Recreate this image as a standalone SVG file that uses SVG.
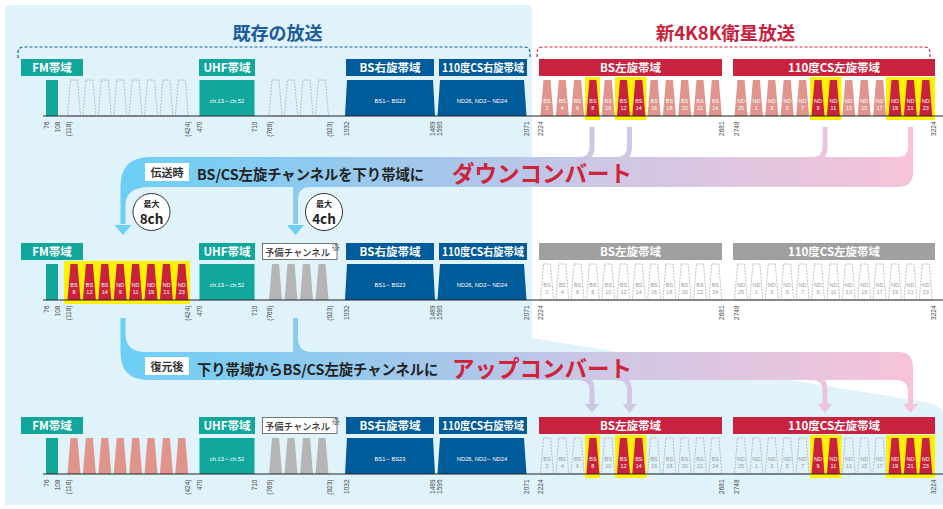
<svg xmlns="http://www.w3.org/2000/svg" width="943" height="509" viewBox="0 0 943 509">
<style>
.lb{font-family:"Noto Sans CJK JP","Noto Sans",sans-serif;font-weight:700;font-size:11.5px;fill:#fff;text-anchor:middle}
.tk{font-family:"Liberation Sans","Noto Sans",sans-serif;font-size:6.5px;fill:#444;text-anchor:end}
.cl{font-family:"Liberation Sans","Noto Sans",sans-serif;font-size:5.5px;fill:#fff;text-anchor:middle}
.cg{font-family:"Liberation Sans","Noto Sans",sans-serif;font-size:5.5px;fill:#9a9a9a;text-anchor:middle}
.bt{font-family:"Liberation Sans","Noto Sans",sans-serif;font-size:5.8px;fill:#fff;text-anchor:middle}
.sal{fill:#e0948c}
.red{fill:#c8223f}
.gry{fill:#b5b5b5}
.dsh{fill:none;stroke:#a3a3a3;stroke-width:0.7;stroke-dasharray:2 1.2}
.yl{fill:#fff100}
.teal{fill:#12a79d}
.blu{fill:#005b9a}
.gl{fill:#a0a0a0}
.ax{stroke:#222;stroke-width:1.2}
.jp{font-family:"Noto Sans CJK JP","Noto Sans",sans-serif;font-weight:700}
.rs{font-family:"Noto Sans CJK JP",sans-serif;font-weight:500;font-size:9.5px;fill:#333}
.stem{fill:none;stroke:url(#gband);stroke-width:5}
</style>
<defs>
<path id="tz" d="M-3.5 -36 H3.5 L6.5 0 H-6.5 Z"/>
<linearGradient id="gband" gradientUnits="userSpaceOnUse" x1="120" y1="0" x2="915" y2="0">
<stop offset="0" stop-color="#6ccff6"/>
<stop offset="0.42" stop-color="#a9c6ea"/>
<stop offset="0.6" stop-color="#cdc7e5"/>
<stop offset="1" stop-color="#f7c3d9"/>
</linearGradient>
</defs>

<g id="background">
<rect width="943" height="509" fill="#fff"/>
<path d="M5 10 Q5 5 10 5 H527 Q532 5 532 10 V338 L925 402 Q943 405 943 415 V505 H5 Z" fill="#e0f2fa"/>
</g>

<g id="titles">
<text class="jp" x="277.5" y="40" font-size="18" fill="#1a5c9e" text-anchor="middle">既存の放送</text>
<path d="M18 58 V53 Q18 47 24 47 H524 Q530 47 530 53 V57" fill="none" stroke="#1a5c9e" stroke-width="1.2" stroke-dasharray="3 2"/>
<text class="jp" x="725.5" y="40" font-size="18.5" fill="#c8223f" text-anchor="middle">新4K8K衛星放送</text>
<path d="M537 57 V53 Q537 47 543 47 H924 Q930 47 930 53 V58" fill="none" stroke="#e0203f" stroke-width="1.2" stroke-dasharray="3 2"/>
</g>

<g id="connectors">
<path fill="url(#gband)" d="M120.5 224 V187 Q120.5 157 150 157 H898 Q908 157 908 147 V127 H913 V172 Q913 187 898 187 H311 Q298 187 298 200 V224 H293 V187 H150 Q125.5 187 125.5 205 V224 Z"/>
<path class="stem" d="M592 127 V147 Q592 159.5 579 159.5"/>
<path class="stem" d="M629.5 127 V147 Q629.5 159.5 616 159.5"/>
<path class="stem" d="M825 127 V147 Q825 159.5 812 159.5"/>
<polygon points="114.5,225 131.5,225 123,235" fill="#6ccff6"/>
<polygon points="287,225 304,225 295.5,235" fill="#6ccff6"/>
<path fill="url(#gband)" d="M120.5 318 H125.5 V334 Q125.5 352 146 352 H293 V318 H298 V338 Q298 352 312 352 H898 Q913 352 913 367 V404 H908 V392 Q908 380 896 380 H148 Q120.5 380 120.5 352 Z"/>
<path class="stem" d="M579 377.5 Q592 377.5 592 390 V404"/>
<path class="stem" d="M616 377.5 Q629.5 377.5 629.5 390 V404"/>
<path class="stem" d="M812 377.5 Q825 377.5 825 390 V404"/>
<polygon points="585,404 599,404 592,413" fill="url(#gband)"/>
<polygon points="622.5,404 636.5,404 629.5,413" fill="url(#gband)"/>
<polygon points="818,404 832,404 825,413" fill="url(#gband)"/>
<polygon points="903,404 918,404 910.5,413" fill="url(#gband)"/>
</g>

<g id="downconvert-text">
<rect x="145" y="163" width="44" height="18" fill="#fff"/>
<text class="jp" x="167" y="177" font-size="11" fill="#333" text-anchor="middle">伝送時</text>
<text class="jp" x="197" y="180" font-size="14.3" fill="#222">BS/CS左旋チャンネルを下り帯域に</text>
<text class="jp" x="452" y="182" font-size="22.5" fill="#d0223b">ダウンコンバート</text>
</g>
<g id="max8">
<circle cx="151.5" cy="212" r="18.5" fill="#fff" stroke="#333" stroke-width="1"/>
<text class="jp" x="151.5" y="206.5" font-size="8" fill="#222" text-anchor="middle">最大</text>
<text class="jp" x="151.5" y="224" font-size="13.5" fill="#222" text-anchor="middle">8ch</text>
</g>
<g id="max4">
<circle cx="324" cy="212" r="18.5" fill="#fff" stroke="#333" stroke-width="1"/>
<text class="jp" x="324" y="206.5" font-size="8" fill="#222" text-anchor="middle">最大</text>
<text class="jp" x="324" y="224" font-size="13.5" fill="#222" text-anchor="middle">4ch</text>
</g>
<g id="upconvert-text">
<rect x="145" y="357" width="44" height="18" fill="#fff"/>
<text class="jp" x="167" y="371" font-size="11" fill="#333" text-anchor="middle">復元後</text>
<text class="jp" x="197" y="375" font-size="14.3" fill="#222">下り帯域からBS/CS左旋チャンネルに</text>
<text class="jp" x="452" y="377" font-size="22.5" fill="#d0223b">アップコンバート</text>
</g>

<!-- ROW 1 -->
<g id="row1">
<g id="r1-fm"><rect class="teal" x="21" y="59" width="62" height="17"/><text class="lb" x="52" y="72">FM帯域</text><rect class="teal" x="46" y="80" width="12" height="36"/></g>
<g id="r1-fmch" class="dsh">
<use href="#tz" x="74" y="116"/><use href="#tz" x="89.4" y="116"/><use href="#tz" x="104.8" y="116"/><use href="#tz" x="120.2" y="116"/><use href="#tz" x="135.6" y="116"/><use href="#tz" x="151" y="116"/><use href="#tz" x="166.4" y="116"/><use href="#tz" x="181.8" y="116"/>
</g>
<g id="r1-uhf"><rect class="teal" x="199" y="59" width="56" height="17"/><text class="lb" x="227" y="72">UHF帯域</text><rect class="teal" x="199.5" y="80" width="55" height="36"/><text class="bt" x="227" y="102.5">ch.13～ch.52</text></g>
<g id="r1-res" class="dsh">
<use href="#tz" x="275.5" y="116"/><use href="#tz" x="291" y="116"/><use href="#tz" x="306.5" y="116"/><use href="#tz" x="322" y="116"/>
</g>
<g id="r1-bsr"><rect class="blu" x="346" y="59" width="88" height="17"/><text class="lb" x="390" y="72">BS右旋帯域</text><path class="blu" d="M347 80 H433 L435 116 H345 Z"/><text class="bt" x="390" y="102.5">BS1～BS23</text></g>
<g id="r1-csr"><rect class="blu" x="439" y="59" width="88" height="17"/><text class="lb" x="483" y="72" textLength="82" lengthAdjust="spacingAndGlyphs">110度CS右旋帯域</text><path class="blu" d="M440 80 H524 L526.5 116 H437.5 Z"/><text class="bt" x="482" y="102.5">ND26, ND2～ND24</text></g>
<g id="r1-bsl">
<rect class="red" x="539" y="59" width="183" height="17"/><text class="lb" x="630.5" y="72">BS左旋帯域</text>
<rect class="yl" x="585" y="77" width="15" height="43"/><rect class="yl" x="615" y="77" width="31.5" height="43"/>
<use href="#tz" class="sal" x="547" y="116"/><use href="#tz" class="sal" x="562.3" y="116"/><use href="#tz" class="sal" x="577.6" y="116"/><use href="#tz" class="red" x="592.9" y="116"/><use href="#tz" class="sal" x="608.2" y="116"/><use href="#tz" class="red" x="623.5" y="116"/><use href="#tz" class="red" x="638.8" y="116"/><use href="#tz" class="sal" x="654.1" y="116"/><use href="#tz" class="sal" x="669.4" y="116"/><use href="#tz" class="sal" x="684.7" y="116"/><use href="#tz" class="sal" x="700" y="116"/><use href="#tz" class="sal" x="715.3" y="116"/>
<text class="cl" x="547" y="103">BS<tspan x="547" dy="6.5">2</tspan></text><text class="cl" x="562.3" y="103">BS<tspan x="562.3" dy="6.5">4</tspan></text><text class="cl" x="577.6" y="103">BS<tspan x="577.6" dy="6.5">6</tspan></text><text class="cl" x="592.9" y="103">BS<tspan x="592.9" dy="6.5">8</tspan></text><text class="cl" x="608.2" y="103">BS<tspan x="608.2" dy="6.5">10</tspan></text><text class="cl" x="623.5" y="103">BS<tspan x="623.5" dy="6.5">12</tspan></text><text class="cl" x="638.8" y="103">BS<tspan x="638.8" dy="6.5">14</tspan></text><text class="cl" x="654.1" y="103">BS<tspan x="654.1" dy="6.5">16</tspan></text><text class="cl" x="669.4" y="103">BS<tspan x="669.4" dy="6.5">18</tspan></text><text class="cl" x="684.7" y="103">BS<tspan x="684.7" dy="6.5">20</tspan></text><text class="cl" x="700" y="103">BS<tspan x="700" dy="6.5">22</tspan></text><text class="cl" x="715.3" y="103">BS<tspan x="715.3" dy="6.5">24</tspan></text>
</g>
<g id="r1-csl">
<rect class="red" x="733" y="59" width="202" height="17"/><text class="lb" x="834" y="72">110度CS左旋帯域</text>
<rect class="yl" x="810" y="77" width="31.5" height="43"/><rect class="yl" x="886" y="77" width="49" height="43"/>
<use href="#tz" class="sal" x="741" y="116"/><use href="#tz" class="sal" x="756.4" y="116"/><use href="#tz" class="sal" x="771.8" y="116"/><use href="#tz" class="sal" x="787.2" y="116"/><use href="#tz" class="sal" x="802.6" y="116"/><use href="#tz" class="red" x="818" y="116"/><use href="#tz" class="red" x="833.4" y="116"/><use href="#tz" class="sal" x="848.8" y="116"/><use href="#tz" class="sal" x="864.2" y="116"/><use href="#tz" class="sal" x="879.6" y="116"/><use href="#tz" class="red" x="895" y="116"/><use href="#tz" class="red" x="910.4" y="116"/><use href="#tz" class="red" x="925.8" y="116"/>
<text class="cl" x="741" y="103">ND<tspan x="741" dy="6.5">25</tspan></text><text class="cl" x="756.4" y="103">ND<tspan x="756.4" dy="6.5">1</tspan></text><text class="cl" x="771.8" y="103">ND<tspan x="771.8" dy="6.5">3</tspan></text><text class="cl" x="787.2" y="103">ND<tspan x="787.2" dy="6.5">5</tspan></text><text class="cl" x="802.6" y="103">ND<tspan x="802.6" dy="6.5">7</tspan></text><text class="cl" x="818" y="103">ND<tspan x="818" dy="6.5">9</tspan></text><text class="cl" x="833.4" y="103">ND<tspan x="833.4" dy="6.5">11</tspan></text><text class="cl" x="848.8" y="103">ND<tspan x="848.8" dy="6.5">13</tspan></text><text class="cl" x="864.2" y="103">ND<tspan x="864.2" dy="6.5">15</tspan></text><text class="cl" x="879.6" y="103">ND<tspan x="879.6" dy="6.5">17</tspan></text><text class="cl" x="895" y="103">ND<tspan x="895" dy="6.5">19</tspan></text><text class="cl" x="910.4" y="103">ND<tspan x="910.4" dy="6.5">21</tspan></text><text class="cl" x="925.8" y="103">ND<tspan x="925.8" dy="6.5">23</tspan></text>
</g>
<line class="ax" x1="43" y1="116" x2="943" y2="116"/>
<g id="r1-ticks">
<text class="tk" transform="translate(49.3,121.5) rotate(-90)">76</text><text class="tk" transform="translate(59.8,121.5) rotate(-90)">108</text><text class="tk" transform="translate(70.8,121.5) rotate(-90)">(118)</text><text class="tk" transform="translate(190.3,121.5) rotate(-90)">(424)</text><text class="tk" transform="translate(202.3,121.5) rotate(-90)">470</text><text class="tk" transform="translate(256.8,121.5) rotate(-90)">710</text><text class="tk" transform="translate(271.8,121.5) rotate(-90)">(769)</text><text class="tk" transform="translate(332.3,121.5) rotate(-90)">(923)</text><text class="tk" transform="translate(349.3,121.5) rotate(-90)">1032</text><text class="tk" transform="translate(434.8,121.5) rotate(-90)">1489</text><text class="tk" transform="translate(441.8,121.5) rotate(-90)">1595</text><text class="tk" transform="translate(529.3,121.5) rotate(-90)">2071</text><text class="tk" transform="translate(542.8,121.5) rotate(-90)">2224</text><text class="tk" transform="translate(724.3,121.5) rotate(-90)">2681</text><text class="tk" transform="translate(739.3,121.5) rotate(-90)">2748</text><text class="tk" transform="translate(935.8,121.5) rotate(-90)">3224</text>
</g>
</g>

<!-- ROW 2 -->
<g id="row2" transform="translate(0,184)">
<g id="r2-fm"><rect class="teal" x="21" y="59" width="62" height="17"/><text class="lb" x="52" y="72">FM帯域</text><rect class="teal" x="46" y="80" width="12" height="36"/></g>
<g id="r2-fmch">
<rect class="yl" x="64" y="77" width="126" height="43"/>
<g class="red"><use href="#tz" x="74" y="116"/><use href="#tz" x="89.4" y="116"/><use href="#tz" x="104.8" y="116"/><use href="#tz" x="120.2" y="116"/><use href="#tz" x="135.6" y="116"/><use href="#tz" x="151" y="116"/><use href="#tz" x="166.4" y="116"/><use href="#tz" x="181.8" y="116"/></g>
<text class="cl" x="74" y="103">BS<tspan x="74" dy="6.5">8</tspan></text><text class="cl" x="89.4" y="103">BS<tspan x="89.4" dy="6.5">12</tspan></text><text class="cl" x="104.8" y="103">BS<tspan x="104.8" dy="6.5">14</tspan></text><text class="cl" x="120.2" y="103">ND<tspan x="120.2" dy="6.5">9</tspan></text><text class="cl" x="135.6" y="103">ND<tspan x="135.6" dy="6.5">11</tspan></text><text class="cl" x="151" y="103">ND<tspan x="151" dy="6.5">19</tspan></text><text class="cl" x="166.4" y="103">ND<tspan x="166.4" dy="6.5">21</tspan></text><text class="cl" x="181.8" y="103">ND<tspan x="181.8" dy="6.5">23</tspan></text>
</g>
<g id="r2-uhf"><rect class="teal" x="199" y="59" width="56" height="17"/><text class="lb" x="227" y="72">UHF帯域</text><rect class="teal" x="199.5" y="80" width="55" height="36"/><text class="bt" x="227" y="102.5">ch.13～ch.52</text></g>
<g id="r2-res">
<rect x="262.5" y="59.5" width="74.5" height="16" fill="#fff" stroke="#555" stroke-width="0.8"/>
<text class="rs" x="265" y="71.5" textLength="65" lengthAdjust="spacingAndGlyphs">予備チャンネル</text><text class="rs" x="331" y="67" font-size="6">※</text>
<g class="gry"><use href="#tz" x="275.5" y="116"/><use href="#tz" x="291" y="116"/><use href="#tz" x="306.5" y="116"/><use href="#tz" x="322" y="116"/></g>
</g>
<g id="r2-bsr"><rect class="blu" x="346" y="59" width="88" height="17"/><text class="lb" x="390" y="72">BS右旋帯域</text><path class="blu" d="M347 80 H433 L435 116 H345 Z"/><text class="bt" x="390" y="102.5">BS1～BS23</text></g>
<g id="r2-csr"><rect class="blu" x="439" y="59" width="88" height="17"/><text class="lb" x="483" y="72" textLength="82" lengthAdjust="spacingAndGlyphs">110度CS右旋帯域</text><path class="blu" d="M440 80 H524 L526.5 116 H437.5 Z"/><text class="bt" x="482" y="102.5">ND26, ND2～ND24</text></g>
<g id="r2-bsl">
<rect class="gl" x="539" y="59" width="183" height="17"/><text class="lb" x="630.5" y="72">BS左旋帯域</text>
<g class="dsh"><use href="#tz" x="547" y="116"/><use href="#tz" x="562.3" y="116"/><use href="#tz" x="577.6" y="116"/><use href="#tz" x="592.9" y="116"/><use href="#tz" x="608.2" y="116"/><use href="#tz" x="623.5" y="116"/><use href="#tz" x="638.8" y="116"/><use href="#tz" x="654.1" y="116"/><use href="#tz" x="669.4" y="116"/><use href="#tz" x="684.7" y="116"/><use href="#tz" x="700" y="116"/><use href="#tz" x="715.3" y="116"/></g>
<text class="cg" x="547" y="103">BS<tspan x="547" dy="6.5">2</tspan></text><text class="cg" x="562.3" y="103">BS<tspan x="562.3" dy="6.5">4</tspan></text><text class="cg" x="577.6" y="103">BS<tspan x="577.6" dy="6.5">6</tspan></text><text class="cg" x="592.9" y="103">BS<tspan x="592.9" dy="6.5">8</tspan></text><text class="cg" x="608.2" y="103">BS<tspan x="608.2" dy="6.5">10</tspan></text><text class="cg" x="623.5" y="103">BS<tspan x="623.5" dy="6.5">12</tspan></text><text class="cg" x="638.8" y="103">BS<tspan x="638.8" dy="6.5">14</tspan></text><text class="cg" x="654.1" y="103">BS<tspan x="654.1" dy="6.5">16</tspan></text><text class="cg" x="669.4" y="103">BS<tspan x="669.4" dy="6.5">18</tspan></text><text class="cg" x="684.7" y="103">BS<tspan x="684.7" dy="6.5">20</tspan></text><text class="cg" x="700" y="103">BS<tspan x="700" dy="6.5">22</tspan></text><text class="cg" x="715.3" y="103">BS<tspan x="715.3" dy="6.5">24</tspan></text>
</g>
<g id="r2-csl">
<rect class="gl" x="733" y="59" width="202" height="17"/><text class="lb" x="834" y="72">110度CS左旋帯域</text>
<g class="dsh"><use href="#tz" x="741" y="116"/><use href="#tz" x="756.4" y="116"/><use href="#tz" x="771.8" y="116"/><use href="#tz" x="787.2" y="116"/><use href="#tz" x="802.6" y="116"/><use href="#tz" x="818" y="116"/><use href="#tz" x="833.4" y="116"/><use href="#tz" x="848.8" y="116"/><use href="#tz" x="864.2" y="116"/><use href="#tz" x="879.6" y="116"/><use href="#tz" x="895" y="116"/><use href="#tz" x="910.4" y="116"/><use href="#tz" x="925.8" y="116"/></g>
<text class="cg" x="741" y="103">ND<tspan x="741" dy="6.5">25</tspan></text><text class="cg" x="756.4" y="103">ND<tspan x="756.4" dy="6.5">1</tspan></text><text class="cg" x="771.8" y="103">ND<tspan x="771.8" dy="6.5">3</tspan></text><text class="cg" x="787.2" y="103">ND<tspan x="787.2" dy="6.5">5</tspan></text><text class="cg" x="802.6" y="103">ND<tspan x="802.6" dy="6.5">7</tspan></text><text class="cg" x="818" y="103">ND<tspan x="818" dy="6.5">9</tspan></text><text class="cg" x="833.4" y="103">ND<tspan x="833.4" dy="6.5">11</tspan></text><text class="cg" x="848.8" y="103">ND<tspan x="848.8" dy="6.5">13</tspan></text><text class="cg" x="864.2" y="103">ND<tspan x="864.2" dy="6.5">15</tspan></text><text class="cg" x="879.6" y="103">ND<tspan x="879.6" dy="6.5">17</tspan></text><text class="cg" x="895" y="103">ND<tspan x="895" dy="6.5">19</tspan></text><text class="cg" x="910.4" y="103">ND<tspan x="910.4" dy="6.5">21</tspan></text><text class="cg" x="925.8" y="103">ND<tspan x="925.8" dy="6.5">23</tspan></text>
</g>
<line class="ax" x1="43" y1="116" x2="943" y2="116"/>
<g id="r2-ticks">
<text class="tk" transform="translate(49.3,121.5) rotate(-90)">76</text><text class="tk" transform="translate(59.8,121.5) rotate(-90)">108</text><text class="tk" transform="translate(70.8,121.5) rotate(-90)">(118)</text><text class="tk" transform="translate(190.3,121.5) rotate(-90)">(424)</text><text class="tk" transform="translate(202.3,121.5) rotate(-90)">470</text><text class="tk" transform="translate(256.8,121.5) rotate(-90)">710</text><text class="tk" transform="translate(271.8,121.5) rotate(-90)">(769)</text><text class="tk" transform="translate(332.3,121.5) rotate(-90)">(923)</text><text class="tk" transform="translate(349.3,121.5) rotate(-90)">1032</text><text class="tk" transform="translate(434.8,121.5) rotate(-90)">1489</text><text class="tk" transform="translate(441.8,121.5) rotate(-90)">1595</text><text class="tk" transform="translate(529.3,121.5) rotate(-90)">2071</text><text class="tk" transform="translate(542.8,121.5) rotate(-90)">2224</text><text class="tk" transform="translate(724.3,121.5) rotate(-90)">2681</text><text class="tk" transform="translate(739.3,121.5) rotate(-90)">2748</text><text class="tk" transform="translate(935.8,121.5) rotate(-90)">3224</text>
</g>
</g>

<!-- ROW 3 -->
<g id="row3" transform="translate(0,358)">
<g id="r3-fm"><rect class="teal" x="21" y="59" width="62" height="17"/><text class="lb" x="52" y="72">FM帯域</text><rect class="teal" x="46" y="80" width="12" height="36"/></g>
<g id="r3-fmch" class="sal">
<use href="#tz" x="74" y="116"/><use href="#tz" x="89.4" y="116"/><use href="#tz" x="104.8" y="116"/><use href="#tz" x="120.2" y="116"/><use href="#tz" x="135.6" y="116"/><use href="#tz" x="151" y="116"/><use href="#tz" x="166.4" y="116"/><use href="#tz" x="181.8" y="116"/>
</g>
<g id="r3-uhf"><rect class="teal" x="199" y="59" width="56" height="17"/><text class="lb" x="227" y="72">UHF帯域</text><rect class="teal" x="199.5" y="80" width="55" height="36"/><text class="bt" x="227" y="102.5">ch.13～ch.52</text></g>
<g id="r3-res">
<rect x="262.5" y="59.5" width="74.5" height="16" fill="#fff" stroke="#555" stroke-width="0.8"/>
<text class="rs" x="265" y="71.5" textLength="65" lengthAdjust="spacingAndGlyphs">予備チャンネル</text><text class="rs" x="331" y="67" font-size="6">※</text>
<g class="gry"><use href="#tz" x="275.5" y="116"/><use href="#tz" x="291" y="116"/><use href="#tz" x="306.5" y="116"/><use href="#tz" x="322" y="116"/></g>
</g>
<g id="r3-bsr"><rect class="blu" x="346" y="59" width="88" height="17"/><text class="lb" x="390" y="72">BS右旋帯域</text><path class="blu" d="M347 80 H433 L435 116 H345 Z"/><text class="bt" x="390" y="102.5">BS1～BS23</text></g>
<g id="r3-csr"><rect class="blu" x="439" y="59" width="88" height="17"/><text class="lb" x="483" y="72" textLength="82" lengthAdjust="spacingAndGlyphs">110度CS右旋帯域</text><path class="blu" d="M440 80 H524 L526.5 116 H437.5 Z"/><text class="bt" x="482" y="102.5">ND26, ND2～ND24</text></g>
<g id="r3-bsl">
<rect class="red" x="539" y="59" width="183" height="17"/><text class="lb" x="630.5" y="72">BS左旋帯域</text>
<rect class="yl" x="585" y="77" width="15" height="43"/><rect class="yl" x="615" y="77" width="31.5" height="43"/>
<g class="dsh"><use href="#tz" x="547" y="116"/><use href="#tz" x="562.3" y="116"/><use href="#tz" x="577.6" y="116"/><use href="#tz" x="608.2" y="116"/><use href="#tz" x="654.1" y="116"/><use href="#tz" x="669.4" y="116"/><use href="#tz" x="684.7" y="116"/><use href="#tz" x="700" y="116"/><use href="#tz" x="715.3" y="116"/></g>
<g class="red"><use href="#tz" x="592.9" y="116"/><use href="#tz" x="623.5" y="116"/><use href="#tz" x="638.8" y="116"/></g>
<text class="cg" x="547" y="103">BS<tspan x="547" dy="6.5">2</tspan></text><text class="cg" x="562.3" y="103">BS<tspan x="562.3" dy="6.5">4</tspan></text><text class="cg" x="577.6" y="103">BS<tspan x="577.6" dy="6.5">6</tspan></text><text class="cl" x="592.9" y="103">BS<tspan x="592.9" dy="6.5">8</tspan></text><text class="cg" x="608.2" y="103">BS<tspan x="608.2" dy="6.5">10</tspan></text><text class="cl" x="623.5" y="103">BS<tspan x="623.5" dy="6.5">12</tspan></text><text class="cl" x="638.8" y="103">BS<tspan x="638.8" dy="6.5">14</tspan></text><text class="cg" x="654.1" y="103">BS<tspan x="654.1" dy="6.5">16</tspan></text><text class="cg" x="669.4" y="103">BS<tspan x="669.4" dy="6.5">18</tspan></text><text class="cg" x="684.7" y="103">BS<tspan x="684.7" dy="6.5">20</tspan></text><text class="cg" x="700" y="103">BS<tspan x="700" dy="6.5">22</tspan></text><text class="cg" x="715.3" y="103">BS<tspan x="715.3" dy="6.5">24</tspan></text>
</g>
<g id="r3-csl">
<rect class="red" x="733" y="59" width="202" height="17"/><text class="lb" x="834" y="72">110度CS左旋帯域</text>
<rect class="yl" x="810" y="77" width="31.5" height="43"/><rect class="yl" x="886" y="77" width="49" height="43"/>
<g class="dsh"><use href="#tz" x="741" y="116"/><use href="#tz" x="756.4" y="116"/><use href="#tz" x="771.8" y="116"/><use href="#tz" x="787.2" y="116"/><use href="#tz" x="802.6" y="116"/><use href="#tz" x="848.8" y="116"/><use href="#tz" x="864.2" y="116"/><use href="#tz" x="879.6" y="116"/></g>
<g class="red"><use href="#tz" x="818" y="116"/><use href="#tz" x="833.4" y="116"/><use href="#tz" x="895" y="116"/><use href="#tz" x="910.4" y="116"/><use href="#tz" x="925.8" y="116"/></g>
<text class="cg" x="741" y="103">ND<tspan x="741" dy="6.5">25</tspan></text><text class="cg" x="756.4" y="103">ND<tspan x="756.4" dy="6.5">1</tspan></text><text class="cg" x="771.8" y="103">ND<tspan x="771.8" dy="6.5">3</tspan></text><text class="cg" x="787.2" y="103">ND<tspan x="787.2" dy="6.5">5</tspan></text><text class="cg" x="802.6" y="103">ND<tspan x="802.6" dy="6.5">7</tspan></text><text class="cl" x="818" y="103">ND<tspan x="818" dy="6.5">9</tspan></text><text class="cl" x="833.4" y="103">ND<tspan x="833.4" dy="6.5">11</tspan></text><text class="cg" x="848.8" y="103">ND<tspan x="848.8" dy="6.5">13</tspan></text><text class="cg" x="864.2" y="103">ND<tspan x="864.2" dy="6.5">15</tspan></text><text class="cg" x="879.6" y="103">ND<tspan x="879.6" dy="6.5">17</tspan></text><text class="cl" x="895" y="103">ND<tspan x="895" dy="6.5">19</tspan></text><text class="cl" x="910.4" y="103">ND<tspan x="910.4" dy="6.5">21</tspan></text><text class="cl" x="925.8" y="103">ND<tspan x="925.8" dy="6.5">23</tspan></text>
</g>
<line class="ax" x1="43" y1="116" x2="943" y2="116"/>
<g id="r3-ticks">
<text class="tk" transform="translate(49.3,121.5) rotate(-90)">76</text><text class="tk" transform="translate(59.8,121.5) rotate(-90)">108</text><text class="tk" transform="translate(70.8,121.5) rotate(-90)">(118)</text><text class="tk" transform="translate(190.3,121.5) rotate(-90)">(424)</text><text class="tk" transform="translate(202.3,121.5) rotate(-90)">470</text><text class="tk" transform="translate(256.8,121.5) rotate(-90)">710</text><text class="tk" transform="translate(271.8,121.5) rotate(-90)">(769)</text><text class="tk" transform="translate(332.3,121.5) rotate(-90)">(923)</text><text class="tk" transform="translate(349.3,121.5) rotate(-90)">1032</text><text class="tk" transform="translate(434.8,121.5) rotate(-90)">1489</text><text class="tk" transform="translate(441.8,121.5) rotate(-90)">1595</text><text class="tk" transform="translate(529.3,121.5) rotate(-90)">2071</text><text class="tk" transform="translate(542.8,121.5) rotate(-90)">2224</text><text class="tk" transform="translate(724.3,121.5) rotate(-90)">2681</text><text class="tk" transform="translate(739.3,121.5) rotate(-90)">2748</text><text class="tk" transform="translate(935.8,121.5) rotate(-90)">3224</text>
</g>
</g>
</svg>
